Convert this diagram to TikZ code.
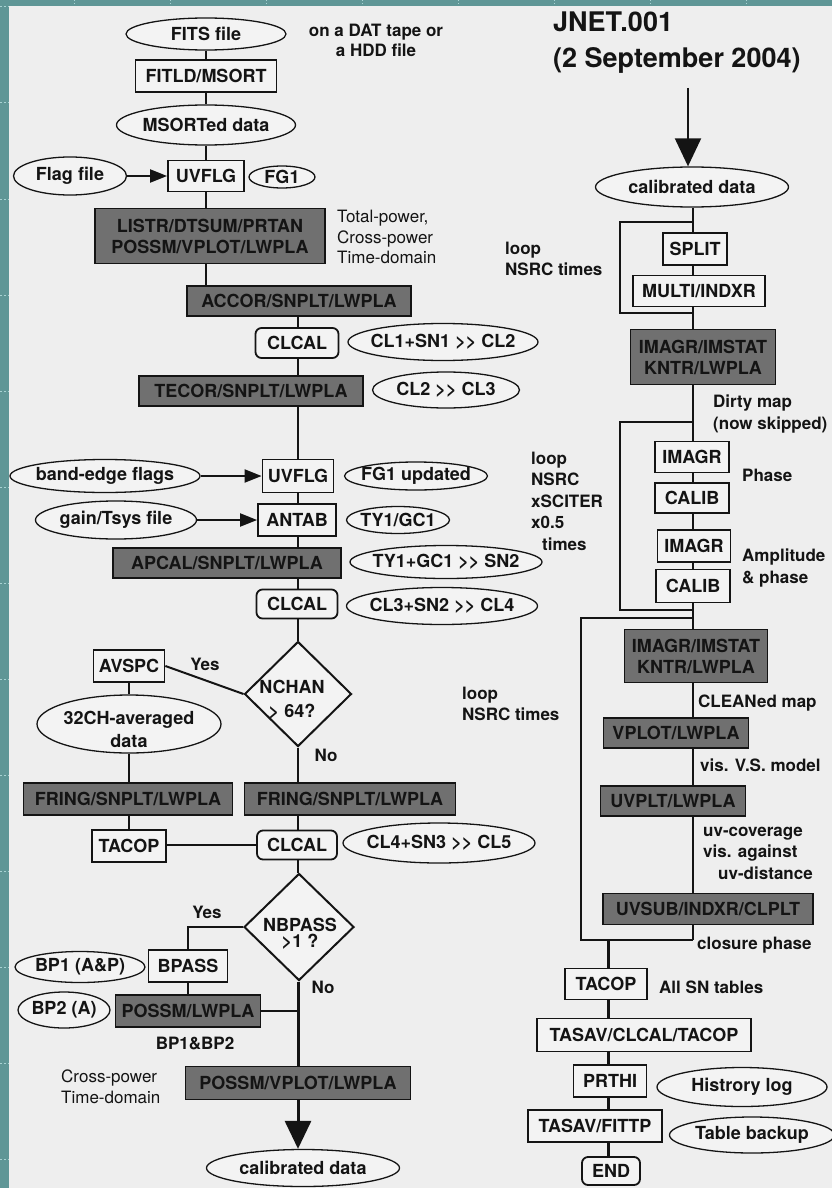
\documentclass[tikz,border=0pt]{standalone}
\usepackage{fontspec}
\setmainfont{TeX Gyre Heros}
\usetikzlibrary{shapes.geometric,arrows.meta}
\definecolor{bg}{HTML}{EEEEEE}
\definecolor{tealzero}{HTML}{5F9696}
\definecolor{tickc}{HTML}{A9D3D3}
\definecolor{dfill}{HTML}{707070}
\definecolor{wfill}{HTML}{F3F3F3}
\definecolor{ink}{HTML}{141414}
\newcommand{\zw}[1]{\makebox[0pt]{#1}}
\newcommand{\dblgt}{{>}{>}}
\tikzset{
  nbase/.style={font=\fontsize{18}{21}\selectfont\bfseries, text=ink, inner sep=0pt, line width=1.8pt, draw=ink},
  sz/.style 2 args={minimum width=#1pt, minimum height=#2pt},
  wbox/.style={nbase, rectangle, fill=wfill},
  dbox/.style={nbase, rectangle, fill=dfill, align=center},
  rbox/.style={wbox, rounded corners=6pt},
  ell/.style={nbase, ellipse, fill=wfill, line width=1.3pt},
  dia/.style={nbase, diamond, fill=wfill, line width=2pt},
  ctext/.style={font=\fontsize{18}{23}\selectfont\bfseries, text=ink, inner sep=0pt, align=center},
  sidetxt/.style={font=\fontsize{17}{21.5}\selectfont\bfseries, text=ink, inner sep=0pt, align=left},
  sidereg/.style={font=\fontsize{17}{20.5}\selectfont, text=ink, inner sep=0pt, align=left},
  titletxt/.style={font=\fontsize{27}{36}\selectfont\bfseries, text=ink, inner sep=0pt, align=left},
  conn/.style={draw=ink, line width=2pt},
  heavy/.style={draw=ink, line width=3pt},
  arr/.style={conn, -{Triangle[length=17pt,width=13pt]}},
  bigarr/.style={-{Triangle[length=28pt,width=26pt]}}
}
\begin{document}
\begin{tikzpicture}[x=1pt,y=-1pt]
\useasboundingbox (0,0) rectangle (832,1188);
\clip (0,0) rectangle (832,1188);
\fill[bg] (0,0) rectangle (832,1188);
\fill[tealzero] (0,0) rectangle (9,1188);
\fill[tealzero] (0,0) rectangle (832,6);
\foreach \k in {0,...,12} \draw[tickc, line width=1pt, dash pattern=on 2pt off 2pt] (0,{7+96*\k}) -- (9,{7+96*\k});
\foreach \k in {0,...,7} \draw[tickc, line width=1pt, dash pattern=on 1.5pt off 1.5pt] ({74+96*\k},0) -- ({74+96*\k},6);

% ---------------- left column ----------------
\node[ell, sz={160}{32}] (fits) at (206,34) {\zw{FITS file}};
\node[sidetxt, align=center, font=\fontsize{17}{20}\selectfont\bfseries] (tape) at (376,40) {on a DAT tape or\\a HDD file};
\node[wbox, sz={141}{32}] (fitld) at (206,76) {FITLD/MSORT};
\node[ell, sz={179}{40}] (msorted) at (206,125) {\zw{MSORTed data}};
\node[ell, sz={113}{38}] (flagfile) at (70,176) {\zw{Flag file}};
\node[wbox, sz={76}{31}] (uvflg1) at (206,176) {UVFLG};
\node[ell, sz={66}{22}] (fg1) at (282,177) {\zw{FG1}};
\node[dbox, sz={230}{55}] (listr) at (210,236) {LISTR/DTSUM/PRTAN\\POSSM/VPLOT/LWPLA};
\node[sidereg, anchor=west] (tp) at (337,237) {Total-power,\\Cross-power\\Time-domain};
\node[dbox, sz={224}{30}] (accor) at (299,301) {ACCOR/SNPLT/LWPLA};
\node[rbox, sz={83}{30}] (clcal1) at (297,343) {CLCAL};
\node[ell, sz={190}{37}] (cl1) at (443,342) {\zw{CL1+SN1 \dblgt{} CL2}};
\node[dbox, sz={224}{30}] (tecor) at (251,391) {TECOR/SNPLT/LWPLA};
\node[ell, sz={147}{36}] (cl2) at (446,390) {\zw{CL2 \dblgt{} CL3}};
\node[ell, sz={190}{33}] (bandedge) at (105,476) {\zw{band-edge flags}};
\node[wbox, sz={71}{33}] (uvflg2) at (298,476) {UVFLG};
\node[ell, sz={143}{28}] (fg1u) at (416,476) {\zw{FG1 updated}};
\node[ell, sz={161}{38}] (gaintsys) at (116,520) {\zw{gain/Tsys file}};
\node[wbox, sz={78}{32}] (antab) at (297,520) {ANTAB};
\node[ell, sz={103}{27}] (ty1) at (398,520) {\zw{TY1/GC1}};
\node[dbox, sz={228}{30}] (apcal) at (227,563) {APCAL/SNPLT/LWPLA};
\node[ell, sz={192}{33}] (ty1gc1) at (446,562) {\zw{TY1+GC1 \dblgt{} SN2}};
\node[rbox, sz={81}{29}] (clcal2) at (297,604) {CLCAL};
\node[ell, sz={191}{37}] (cl3) at (442,606) {\zw{CL3+SN2 \dblgt{} CL4}};
\node[dia, sz={107}{105}] (nchan) at (298,694) {};
\node[ctext, font=\fontsize{18}{24}\selectfont\bfseries] (nchant) at (292,700) {NCHAN\\> 64?};
\node[wbox, sz={71}{32}] (avspc) at (129,666) {AVSPC};
\node[sidetxt] (yes1) at (205,664) {Yes};
\node[sidetxt] (no1) at (326,755) {No};
\node[ell, sz={184}{58}] (ch32) at (129,724) {};
\node[ctext] (ch32t) at (129,729) {32CH-averaged\\data};
\node[dbox, sz={209}{32}] (fring1) at (128,799) {FRING/SNPLT/LWPLA};
\node[dbox, sz={211}{32}] (fring2) at (350,799) {FRING/SNPLT/LWPLA};
\node[wbox, sz={74}{32}] (tacop1) at (129,846) {TACOP};
\node[rbox, sz={80}{29}] (clcal3) at (297,845) {CLCAL};
\node[ell, sz={192}{40}] (cl4) at (439,843) {\zw{CL4+SN3 \dblgt{} CL5}};
\node[dia, sz={110}{107}] (nbpass) at (299,927) {};
\node[ctext, font=\fontsize{18}{16.5}\selectfont\bfseries] (nbpasst) at (300,934) {NBPASS\\>1 ?};
\node[sidetxt] (yes2) at (207,912) {Yes};
\node[wbox, sz={79}{32}] (bpass) at (188,966) {BPASS};
\node[ell, sz={130}{31}] (bp1) at (80,967) {\zw{BP1 (A\&P)}};
\node[ell, sz={92}{36}] (bp2) at (64,1010) {\zw{BP2 (A)}};
\node[dbox, sz={145}{32}] (possm1) at (188,1011) {POSSM/LWPLA};
\node[sidetxt] (no2) at (323,987) {No};
\node[sidetxt] (bp12) at (195,1043) {BP1\&BP2};
\node[dbox, sz={225}{33}] (possm2) at (298,1083) {POSSM/VPLOT/LWPLA};
\node[sidereg, anchor=west] (cp2) at (61,1087) {Cross-power\\Time-domain};
\node[ell, sz={193}{37}] (caldata1) at (303,1168) {\zw{calibrated data}};

% ---------------- right column ----------------
\node[titletxt, anchor=west] (title) at (553,43) {JNET.001\\(2 September 2004)};
\coordinate (tstart) at (688,88);
\node[ell, sz={193}{40}] (caldata2) at (692,187) {\zw{calibrated data}};
\node[sidetxt, anchor=west] (loop1) at (505,259) {loop\\NSRC times};
\node[wbox, sz={64}{32}] (split) at (695,249) {SPLIT};
\node[wbox, sz={132}{31}] (multi) at (699,291) {MULTI/INDXR};
\node[dbox, sz={145}{55}] (imagrA) at (703,357) {IMAGR/IMSTAT\\KNTR/LWPLA};
\node[sidetxt, anchor=west] (dirty) at (713,414) {Dirty map\\(now skipped)};
\node[wbox, sz={74}{31}] (imagr1) at (692,457) {IMAGR};
\node[sidetxt, anchor=west] (phase) at (742,475) {Phase};
\node[wbox, sz={74}{30}] (calib1) at (692,498) {CALIB};
\node[wbox, sz={73}{32}] (imagr2) at (694,546) {IMAGR};
\node[sidetxt, anchor=west] (amp) at (742,568) {Amplitude\\\& phase};
\node[wbox, sz={74}{33}] (calib2) at (693,586) {CALIB};
\node[sidetxt, anchor=west] (loop2) at (531,501) {loop\\NSRC\\xSCITER\\x0.5\\\hspace*{11pt}times};
\node[dbox, sz={143}{53}] (imagrB) at (696,656) {IMAGR/IMSTAT\\KNTR/LWPLA};
\node[sidetxt, anchor=west] (cleaned) at (698,703) {CLEANed map};
\node[dbox, sz={145}{30}] (vplot) at (676,733) {VPLOT/LWPLA};
\node[sidetxt, anchor=west] (vsm) at (700,765) {vis. V.S. model};
\node[dbox, sz={145}{30}] (uvplt) at (673,801) {UVPLT/LWPLA};
\node[sidetxt, anchor=west] (uvcov) at (703,853) {uv-coverage\\vis. against\\\hspace*{15pt}uv-distance};
\node[sidetxt, anchor=west] (loop3) at (462,704) {loop\\NSRC times};
\node[dbox, sz={210}{31}] (uvsub) at (708,909) {UVSUB/INDXR/CLPLT};
\node[sidetxt, anchor=west] (closure) at (697,945) {closure phase};
\node[wbox, sz={82}{31}] (tacop2) at (606,984) {TACOP};
\node[sidetxt, anchor=west] (allsn) at (659,987) {All SN tables};
\node[wbox, sz={214}{33}] (tasav1) at (644,1035) {TASAV/CLCAL/TACOP};
\node[wbox, sz={73}{32}] (prthi) at (610,1081) {PRTHI};
\node[ell, sz={170}{39}] (hist) at (742,1087) {\zw{Histrory log}};
\node[wbox, sz={134}{32}] (tasav2) at (595,1126) {TASAV/FITTP};
\node[ell, sz={165}{36}] (tbackup) at (752,1135) {\zw{Table backup}};
\node[rbox, sz={58}{28}] (endn) at (611,1171) {END};

% ---------------- spine coordinates ----------------
\coordinate (U) at (206,0);
\coordinate (M) at (298,0);
\coordinate (R) at (693,0);
\coordinate (L) at (608,0);
\coordinate (l1a) at (693,222); \coordinate (l1c) at (620,222);
\coordinate (l1d) at (620,313); \coordinate (l1b) at (693,313);
\coordinate (l2a) at (693,422); \coordinate (l2c) at (620,422);
\coordinate (l2d) at (620,610); \coordinate (l2b) at (693,610);
\coordinate (l3a) at (693,618); \coordinate (l3c) at (581,618);
\coordinate (l3d) at (581,940); \coordinate (l3b) at (693,940);
\coordinate (l3e) at (608,940);

% ---------------- connectors ----------------
\foreach \a/\b in {fits/fitld, fitld/msorted, msorted/uvflg1, uvflg1/listr, listr/accor}
  \draw[conn] (U |- \a.south) -- (U |- \b.north);
\foreach \a/\b in {accor/clcal1, clcal1/tecor, tecor/uvflg2, uvflg2/antab, antab/apcal, apcal/clcal2, clcal2/nchan, nchan/fring2, fring2/clcal3, clcal3/nbpass}
  \draw[conn] (M |- \a.south) -- (M |- \b.north);
\draw[heavy] (M |- nbpass.south) -- (M |- possm2.north);
\draw[heavy, bigarr] (M |- possm2.south) -- (M |- caldata1.north);

\draw[arr] (flagfile.east) -- (uvflg1.west);
\draw[arr] (bandedge.east) -- (uvflg2.west);
\draw[arr] (gaintsys.east) -- (antab.west);
\draw[conn] (avspc.east) -- (nchan.west);
\draw[conn] (avspc.south) -- (ch32.north);
\draw[conn] (ch32.south) -- (ch32.south |- fring1.north);
\draw[conn] (ch32.south |- fring1.south) -- (ch32.south |- tacop1.north);
\draw[conn] (tacop1.east |- clcal3.west) -- (clcal3.west);
\draw[conn] (nbpass.west) -| (bpass.north);
\draw[conn] (bpass.south) -- (possm1.north);
\draw[conn] (possm1.east) -- (M |- possm1.east);

\draw[conn, bigarr] (tstart) -- (tstart |- caldata2.north);
\foreach \a/\b in {caldata2/split, split/multi, multi/imagrA, imagrA/imagr1, imagr1/calib1, calib1/imagr2, imagr2/calib2, calib2/imagrB, imagrB/vplot, vplot/uvplt, uvplt/uvsub}
  \draw[conn] (R |- \a.south) -- (R |- \b.north);
\draw[conn] (R |- uvsub.south) -- (l3b);
\draw[conn] (l1a) -- (l1c) -- (l1d) -- (l1b);
\draw[conn] (l2a) -- (l2c) -- (l2d) -- (l2b);
\draw[conn] (l3a) -- (l3c) -- (l3d) -- (l3b);
\draw[heavy] (l3e) -- (L |- tacop2.north);
\foreach \a/\b in {tacop2/tasav1, tasav1/prthi, prthi/tasav2, tasav2/endn}
  \draw[heavy] (L |- \a.south) -- (L |- \b.north);
\end{tikzpicture}
\end{document}
